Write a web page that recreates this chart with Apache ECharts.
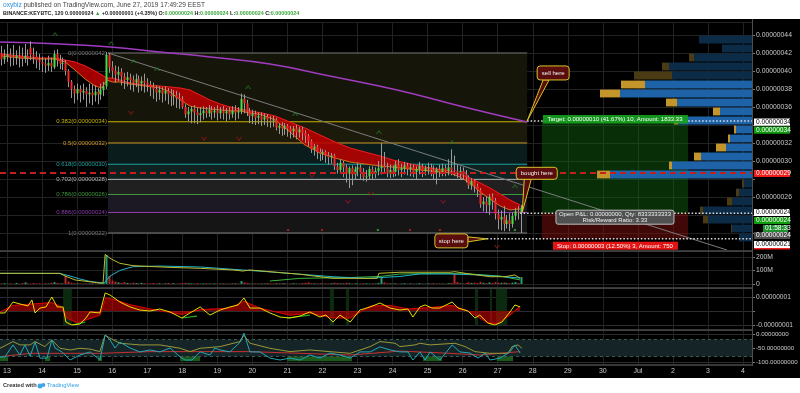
<!DOCTYPE html>
<html><head><meta charset="utf-8">
<script src="https://cdn.jsdelivr.net/npm/echarts@6/dist/echarts.min.js"></script>
<style>html,body{margin:0;padding:0;background:#fff;}#c{width:800px;height:393px;}</style>
</head><body><div id="c"></div>
<script>
// ---------- DATA (prices in satoshi = 1e-8 BTC, time in days of June) ----------
const candleStart = 12.833, candleStep = 1/12;
const open  = [42.0,41.3,41.6,41.8,41.6,41.5,41.7,41.6,41.4,41.7,42.6,41.8,41.6,41.2,41.0,
 40.8,40.6,40.9,40.4,41.9,41.2,40.8,40.9,40.0,38.8,38.0,37.5,
 38.0,37.6,37.8,37.4,37.6,37.3,37.7,37.4,37.9,38.3,41.8,40.4,
 40.0,39.6,39.9,39.4,39.0,39.3,39.0,38.7,39.1,38.6,38.9,38.7,
 38.5,38.2,38.0,37.6,37.9,37.5,37.8,37.4,37.2,37.3,37.0,36.9,
 36.0,35.2,35.5,35.8,35.4,35.1,35.3,35.6,35.3,35.7,35.4,35.6,
 35.3,35.6,35.3,35.5,35.2,35.6,35.4,35.5,36.9,36.4,35.5,35.0,
 35.2,34.8,35.0,34.6,34.9,34.6,34.5,34.6,33.7,33.9,33.6,33.9,
 33.6,33.3,33.6,33.2,33.5,33.1,32.8,32.2,31.3,31.6,31.0,30.8,
 31.0,30.6,30.4,30.6,29.4,29.0,29.8,29.3,28.6,29.2,28.5,29.1,
 29.3,28.8,28.2,28.3,29.1,28.6,28.9,29.2,29.4,29.2,28.6,29.0,
 28.8,29.6,29.0,29.2,29.5,29.1,29.3,28.8,29.1,29.4,28.9,29.2,
 29.3,29.0,28.7,29.1,28.8,29.2,28.9,29.3,29.0,28.9,28.7,28.9,
 28.5,28.2,27.3,27.8,27.2,26.8,25.2,25.5,25.1,26.0,25.6,24.1,
 23.5,23.8,23.0,23.4,23.0,23.9,24.4,24.3];
const close = [41.3,41.6,41.8,41.6,41.5,41.7,41.6,41.4,41.7,41.5,41.8,41.6,41.2,41.0,40.8,
 40.6,40.9,40.5,41.9,41.2,40.8,40.9,40.0,38.8,38.0,37.5,38.0,
 37.6,37.8,37.4,37.6,37.3,37.7,37.4,37.9,38.3,41.8,40.4,40.0,
 39.6,39.9,39.4,39.0,39.3,39.0,38.7,39.1,38.6,38.9,38.7,38.5,
 38.2,38.0,37.6,37.9,37.5,37.8,37.4,37.2,37.3,37.0,36.9,36.0,
 35.2,35.5,35.8,35.4,35.1,35.3,35.6,35.3,35.7,35.4,35.6,35.3,
 35.6,35.3,35.5,35.2,35.6,35.4,35.5,36.9,36.4,35.5,35.0,35.2,
 34.8,35.0,34.6,34.9,34.6,34.5,34.6,33.7,33.9,33.6,33.9,33.6,
 33.3,33.6,33.2,33.5,33.1,32.8,32.2,31.3,31.6,31.0,30.8,31.0,
 30.6,30.4,30.6,29.4,29.0,29.8,29.3,28.6,29.2,28.5,29.1,29.3,
 28.8,28.2,28.3,29.1,28.6,28.9,29.2,29.4,29.2,28.6,29.0,28.8,
 29.6,29.0,29.2,29.5,29.1,29.3,28.8,29.1,29.4,28.9,29.2,29.3,
 29.0,28.7,29.1,28.8,29.2,28.9,29.3,29.0,28.9,28.7,28.9,28.5,
 28.2,27.3,27.8,27.2,26.8,25.2,25.5,25.1,26.0,25.6,24.1,23.5,
 23.8,23.0,23.4,23.0,23.9,24.4,24.3,24.8];
const low   = [40.6,40.8,41.0,40.5,40.6,40.7,40.4,40.5,40.9,40.6,41.2,40.8,40.3,40.1,39.9,
 39.8,40.0,39.9,40.2,40.5,40.2,40.1,39.5,38.2,37.0,36.4,36.8,
 36.5,36.8,36.0,36.4,36.2,36.6,36.3,36.8,37.2,38.0,39.8,39.2,
 38.7,38.9,38.4,38.0,38.3,37.9,37.7,38.2,37.6,37.8,37.6,37.7,
 37.2,36.9,36.6,36.8,36.5,36.7,36.3,36.1,36.2,35.9,35.8,35.8,
 34.8,34.4,34.2,34.2,34.1,34.3,34.6,34.8,34.9,34.6,34.8,34.5,
 34.7,34.6,34.4,34.6,34.8,34.5,34.7,35.2,35.3,35.0,34.2,34.1,
 34.0,34.1,33.9,34.0,33.8,33.7,33.8,33.4,33.0,32.8,32.9,32.7,
 32.5,32.6,32.4,32.6,32.3,32.0,31.6,30.9,30.6,30.2,30.0,30.1,
 29.8,29.6,29.7,29.0,28.6,28.7,28.2,27.6,27.0,27.3,28.0,28.3,
 28.0,27.8,27.7,28.0,28.0,28.1,28.4,28.5,28.6,28.2,28.1,28.2,
 28.3,28.4,28.2,28.5,28.4,28.3,28.2,28.0,28.5,28.2,28.4,28.5,
 28.3,28.0,27.4,28.2,28.3,28.3,28.4,28.4,28.3,28.1,28.0,27.9,
 27.6,26.9,26.8,26.5,26.0,24.8,24.4,24.2,24.0,24.6,23.5,22.4,
 22.3,22.2,22.5,22.2,22.6,23.4,23.5,22.0];
const high  = [42.8,42.4,43.0,42.5,42.9,42.3,42.8,42.6,43.0,42.4,43.3,42.6,42.2,41.9,41.6,
 41.4,41.7,41.5,42.3,42.4,41.8,41.5,41.2,40.2,39.0,38.4,38.6,
 38.4,38.6,38.2,38.6,38.5,38.4,38.1,38.6,38.8,42.1,42.0,41.1,
 40.6,40.5,40.3,39.8,39.9,39.7,39.5,39.7,39.5,39.4,39.7,39.2,
 38.9,38.7,38.4,38.3,38.2,38.3,38.1,38.0,37.9,37.8,37.6,37.2,
 36.3,36.0,36.1,36.2,35.9,36.0,36.1,36.0,36.2,36.1,36.0,36.2,
 36.0,36.1,35.9,36.0,36.1,36.2,36.0,37.5,37.4,36.8,35.9,35.7,
 35.6,35.4,35.4,35.3,35.2,35.0,35.0,34.8,34.2,34.3,34.2,34.1,
 33.9,33.9,34.0,33.8,33.8,33.4,33.0,32.4,31.9,31.8,31.4,31.3,
 31.2,31.0,30.9,30.8,29.8,30.2,30.0,29.6,29.4,29.5,29.4,29.8,
 29.6,29.2,29.0,29.4,29.4,29.3,30.0,32.0,31.0,29.8,29.6,29.5,
 30.0,30.2,29.7,29.9,29.8,29.7,29.6,29.4,29.9,29.7,29.5,29.8,
 29.7,29.5,29.3,29.6,29.7,29.6,30.2,31.3,30.6,29.6,29.4,29.3,
 29.0,28.4,28.1,28.0,27.5,27.0,26.0,26.1,26.3,26.4,25.9,24.6,
 24.5,25.0,24.0,24.2,24.3,24.8,25.0,25.1];
const volume = [4,6,3,
 5,3,8,4,6,12,5,3,7,4,5,3,
 6,4,9,14,8,5,4,62,18,9,6,5,
 4,3,5,4,6,3,5,4,7,215,60,25,
 18,12,9,14,8,6,10,7,5,9,6,4,
 5,7,4,6,3,5,8,4,6,3,5,7,
 9,6,5,4,7,3,5,6,4,3,5,4,
 4,6,3,5,4,7,3,22,12,6,5,4,
 5,3,6,4,7,5,3,8,4,6,5,3,
 4,6,5,3,7,9,12,6,5,4,6,3,
 5,4,6,10,8,5,7,9,6,4,5,3,
 4,6,5,3,5,4,8,44,12,6,5,4,
 5,3,4,6,3,5,4,3,6,4,3,5,
 4,6,3,5,4,3,6,8,81,14,5,4,
 6,12,8,10,7,16,9,7,12,8,14,10,
 9,12,7,6,10,14,8,52];

const emaDays  = [12.83,13.37,13.94,14.37,14.66,14.94,15.23,15.51,15.71,15.85,16.00,16.22,16.51,16.94,17.37,17.65,17.94,18.22,18.51,18.79,19.08,19.36,19.65,19.93,20.28,20.65,21.07,21.50,21.93,22.36,22.79,23.21,23.64,24.01,24.50,25.07,25.64,25.92,26.21,26.50,26.78,27.07,27.35,27.64];
const emaUpper = [41.89,41.67,41.44,41.44,41.22,41.00,40.56,40.00,39.56,39.22,39.22,39.00,38.67,38.44,38.33,38.22,38.11,37.89,37.33,36.78,36.33,36.00,35.78,35.56,35.33,35.00,34.33,33.67,32.89,32.11,31.44,31.00,30.56,30.11,29.67,29.22,28.89,28.56,28.11,27.56,27.00,26.33,25.67,25.11];
const emaLower = [41.67,41.44,41.33,41.33,41.00,40.11,39.11,38.33,38.11,39.00,38.78,38.78,38.56,38.33,38.11,37.67,36.78,36.11,35.89,35.78,35.67,35.56,35.56,35.33,35.11,34.56,33.22,31.78,30.89,30.33,29.89,29.67,29.44,29.33,29.11,28.89,28.67,28.22,27.56,26.56,25.78,25.00,24.56,24.67];
const smaDays   = [12.80,14.51,15.94,17.36,18.79,20.50,22.21,24.13,25.92,27.84];
const smaValues = [43.22,43.00,42.67,42.11,41.56,40.78,39.44,37.89,36.11,34.33];
const trendLine = [[15.88,42.0],[33.54,20.11]];

const fibRatios = [0,0.382,0.5,0.618,0.702,0.786,0.886,1];
const fibPrices = [42,34.36,32,29.64,27.96,26.28,24.28,22];
const fibStartDay = 15.88, fibEndDay = 27.84;

const posStartDay = 28.26, posEndDay = 32.43;
const entryPrice = 24.2, targetPrice = 34.45, stopPrice = 21.35;
const hLinePrice = 28.67;

const profPrice = [21,22,23,24,25,26,27,28,29,30,31,32,33,34,35,36,37,38,39,40,41,42,43];
const profDown  = [0,1,5,3,5,3,2,13,3,7,10,2,2,4,7,11,20,24,38,7,5,0,0];
const profUp    = [13,20,44,49,20,13,8,142,80,51,26,22,16,74,32,75,132,107,80,83,58,30,53];
const valueAreaLow = 28, valueAreaHigh = 38;

const upMarks   = [[14.37,44.11],[15.97,43.11],[16.62,41.11],[17.28,40.22],[19.88,38.22],[21.22,35.22],[23.61,33.22],[25.70,32.11],[27.49,27.22]];
const downMarks = [[16.54,35.33],[18.62,32.44],[19.62,32.44],[21.70,28.33],[22.73,25.44],[23.38,26.33],[25.44,25.44],[26.98,20.44]];
const redDots   = [[21.02,22.33],[21.99,22.33],[24.50,22.33],[25.35,22.33]];
const greenDots = [[23.58,22.33],[27.49,22.33]];

const volCyan   = [[12.80,79],[14.51,78],[14.80,59],[15.08,37],[15.37,19],[15.65,10],[15.77,7],[15.94,59],[16.22,100],[16.59,128],[17.36,133],[18.51,126],[20.42,91],[22.30,54],[23.27,42],[24.21,56],[24.78,74],[25.64,74],[26.49,67],[27.07,56],[27.64,44]];
const volYellow = [[12.80,79],[14.51,79],[14.66,59],[14.94,30],[15.65,7],[15.74,7],[15.80,220],[15.94,190],[16.22,153],[16.59,136],[17.56,124],[18.51,116],[19.45,104],[19.73,96],[19.93,104],[21.36,72],[22.30,42],[23.56,42],[23.61,79],[24.21,87],[25.64,87],[25.78,91],[26.21,74],[26.78,54],[27.21,54],[27.49,67],[27.64,42]];
const volGreen  = [[20.50,22],[21.36,42],[22.79,48],[23.64,56],[24.21,74],[25.35,79],[26.21,74],[27.07,59],[27.64,30]];

const macdYellow = [[12.80,-0.14],[12.94,-0.14],[13.17,0.64],[13.37,0.5],[13.60,0.36],[13.71,0.79],[13.80,-0.14],[13.94,0.21],[14.11,0.29],[14.28,1.0],[14.43,0.29],[14.60,0.29],[14.68,-0.79],[14.85,-1.0],[15.08,-0.93],[15.25,-0.5],[15.37,-0.07],[15.65,-0.14],[15.80,1.29],[15.94,1.14],[16.22,0.64],[16.51,0.29],[16.79,0.07],[17.08,0],[17.36,0.14],[17.65,-0.07],[17.99,-0.5],[18.22,-0.14],[18.51,0.29],[18.79,-0.29],[19.08,0.07],[19.36,0.29],[19.59,0.43],[19.76,0.93],[19.93,0.21],[20.22,0.21],[20.50,-0.14],[20.79,-0.43],[21.07,-0.5],[21.36,-0.36],[21.64,-0.07],[21.93,-0.43],[22.10,-0.29],[22.30,-0.79],[22.50,-0.29],[22.79,-0.79],[23.07,0.07],[23.36,0.29],[23.64,0.57],[23.93,0.21],[24.21,0.07],[24.44,0.14],[24.58,-0.43],[24.78,0.29],[24.93,0.43],[25.13,0.21],[25.35,0.21],[25.70,0.64],[25.87,0.21],[26.15,0],[26.35,-0.5],[26.49,-0.29],[26.72,-0.86],[26.92,-1.0],[27.12,-0.79],[27.35,-0.07],[27.49,0.43],[27.64,0.29]];
const macdRed = [[12.80,-0.07],[13.17,0.4],[13.71,0.5],[14.28,0.6],[14.55,0.3],[14.70,-0.5],[15.00,-0.85],[15.30,-0.6],[15.65,-0.3],[15.82,0.95],[16.08,0.8],[16.51,0.45],[17.08,0.15],[17.99,-0.25],[18.51,0.1],[19.36,0.2],[19.76,0.7],[20.22,0.2],[21.07,-0.3],[21.64,-0.15],[22.30,-0.5],[22.79,-0.5],[23.36,0.35],[23.93,0.4],[24.44,0.15],[25.07,0.25],[25.70,0.4],[26.15,0],[26.49,-0.5],[26.72,-0.85],[27.00,-0.9],[27.35,-0.3],[27.64,0.35]];
const macdGreenSegs = [[[14.85,-1.0],[15.23,-0.79]],[[17.99,-0.5],[18.42,-0.36]],[[20.99,-0.5],[21.64,-0.29]]];
const macdShade = [[14.60,14.85],[22.21,22.33],[22.67,22.76],[26.35,26.44],[26.78,26.84],[26.95,27.27]];

const wrCyan = [[12.80,-82],[12.94,-82],[13.17,-39],[13.37,-75],[13.51,-39],[13.66,-79],[13.80,-29],[13.94,-86],[14.14,-86],[14.28,-21],[14.37,-50],[14.57,-64],[14.80,-93],[15.08,-75],[15.37,-64],[15.65,-93],[15.80,-4],[15.94,-21],[16.08,-50],[16.22,-29],[16.51,-50],[16.79,-64],[17.08,-57],[17.36,-64],[17.65,-50],[17.94,-82],[18.08,-93],[18.28,-93],[18.51,-64],[18.79,-75],[18.93,-50],[19.08,-57],[19.36,-64],[19.65,-29],[19.76,3],[19.93,-64],[20.22,-64],[20.50,-86],[20.79,-93],[21.07,-86],[21.36,-93],[21.64,-75],[21.93,-86],[22.21,-68],[22.50,-75],[22.79,-86],[23.07,-64],[23.36,-64],[23.64,-46],[23.93,-57],[24.21,-64],[24.44,-64],[24.58,-93],[24.78,-64],[24.93,-93],[25.07,-64],[25.35,-93],[25.70,-39],[25.92,-64],[26.21,-68],[26.44,-86],[26.64,-68],[26.78,-93],[27.07,-86],[27.35,-64],[27.49,-39],[27.64,-68]];
const wrYellow = [[12.80,-51],[13.17,-27],[13.37,-39],[13.66,-39],[13.80,-27],[14.08,-45],[14.28,-21],[14.51,-51],[14.80,-57],[15.08,-51],[15.37,-54],[15.65,-63],[15.80,-4],[15.94,-15],[16.22,-33],[16.79,-39],[17.36,-39],[17.94,-51],[18.22,-63],[18.51,-51],[19.08,-45],[19.65,-27],[19.76,-4],[19.93,-33],[20.50,-51],[21.07,-63],[21.64,-57],[22.21,-63],[22.79,-69],[23.36,-45],[23.64,-27],[24.07,-33],[24.21,-45],[24.64,-39],[24.78,-33],[25.07,-39],[25.78,-33],[26.07,-45],[26.35,-63],[26.78,-69],[27.29,-69],[27.41,-45],[27.58,-39],[27.69,-51]];
const wrRed = [[12.80,-81],[13.66,-69],[15.65,-69],[17.08,-63],[19.93,-63],[21.36,-69],[22.79,-75],[24.21,-61],[25.64,-69],[26.49,-75],[27.64,-63]];
const wrGreenZones = [[12.80,13.03],[14.08,14.23],[15.60,15.71],[17.94,18.51],[20.99,22.84],[24.87,25.41],[26.98,27.44]];

const hiddenPriceLabels = [20,22,24,28,34];

// ---------- CHART ----------
const FONT = '"Liberation Sans", Arial, sans-serif';
const AX = '#c8c8c8';
const GRIDC = '#222222';
const chart = echarts.init(document.getElementById('c'), null, {renderer:'canvas'});
const candleData = open.map((o,i)=>[candleStart+i*candleStep, o, close[i], low[i], high[i]]);
const volData = volume.map((v,i)=>[candleStart+i*candleStep, v, close[i]>=open[i]?1:0]);
const fmt8 = v => (v*1e-8).toFixed(8);
const FIB_COL = ['#7a7a7a','#c8b400','#d09a28','#1fa39c','#b8b8b8','#3f9a3f','#8f3cae','#7a7a7a'];
const FIB_BG  = ['#15150a','#1c1a0a','#0b1c1c','#0e2222','#202020','#1c1924','#151515'];

function hidX(g){return {gridIndex:g,type:'value',min:12.8,max:34.255,show:false};}
function txt(x,y,text,fill,font,align,valign,z){
  return {type:'text',x:x,y:y,z:z||60,silent:true,style:{text:text,fill:fill,font:font,
    textAlign:align||'left',textVerticalAlign:valign||'middle',align:align||'left',verticalAlign:valign||'middle'}};
}

const option = {
  animation:false,
  backgroundColor:'#ffffff',
  grid:[
    {left:7, top:22, width:745, height:343, outerBoundsMode:'none'},
    {left:0, top:22, width:752, height:229, outerBoundsMode:'none'},
    {left:0, top:251, width:752, height:33, outerBoundsMode:'none'},
    {left:0, top:288, width:752, height:37, outerBoundsMode:'none'},
    {left:0, top:330, width:752, height:32, outerBoundsMode:'none'}
  ],
  xAxis:[
    {gridIndex:0,type:'value',min:13,max:34.255,interval:1,position:'bottom',
      axisLine:{show:false},axisTick:{show:false},
      splitLine:{show:true,lineStyle:{color:GRIDC,width:1}},
      axisLabel:{color:AX,fontSize:7,fontFamily:FONT,margin:3,showMaxLabel:false,
        formatter:v=>{const r=Math.round(v); if(Math.abs(v-r)>0.01) return ''; return r===31?'Jul':String(r>31?r-30:r);}}},
    hidX(1),
    {gridIndex:1,type:'value',min:0,max:752,inverse:true,show:false},
    hidX(2), hidX(3), hidX(4)
  ],
  yAxis:[
    {gridIndex:0,type:'value',min:0,max:1,show:false},
    {gridIndex:1,type:'value',position:'right',min:20,max:45.444,interval:2,
      axisLine:{show:false},axisTick:{show:true,length:3,lineStyle:{color:'#777'}},
      splitLine:{show:true,lineStyle:{color:GRIDC}},
      axisLabel:{color:AX,fontSize:6.8,fontFamily:FONT,margin:4,showMaxLabel:false,showMinLabel:false,
        formatter:v=>{const r=Math.round(v); if(Math.abs(v-r)>0.01||hiddenPriceLabels.includes(r)) return ''; return fmt8(r);}}},
    {gridIndex:2,type:'value',position:'right',min:0,max:244.4,interval:100,
      axisLine:{show:false},axisTick:{show:true,length:3,lineStyle:{color:'#777'}},
      splitLine:{show:true,lineStyle:{color:GRIDC}},
      axisLabel:{color:AX,fontSize:6.8,fontFamily:FONT,margin:4,showMaxLabel:false,
        formatter:v=>v===0?'0':(v===100?'100M':(v===200?'200M':''))}},
    {gridIndex:3,type:'value',position:'right',min:-1,max:1.643,interval:1,
      axisLine:{show:false},axisTick:{show:true,length:3,lineStyle:{color:'#777'}},
      splitLine:{show:true,lineStyle:{color:'#2c2c2c'}},
      axisLabel:{color:AX,fontSize:6.6,fontFamily:FONT,margin:4,showMaxLabel:false,
        formatter:v=>v===1?'0.00000001':(v===-1?'-0.00000001':'')}},
    {gridIndex:4,type:'value',position:'right',min:-100,max:14.29,interval:50,
      axisLine:{show:false},axisTick:{show:true,length:3,lineStyle:{color:'#777'}},
      splitLine:{show:true,lineStyle:{color:'#2c2c2c'}},
      axisLabel:{color:AX,fontSize:6.2,fontFamily:FONT,margin:4,showMaxLabel:false,
        formatter:v=>v===0?'0.00000000':(v===-50?'-50.00000000':(v===-100?'-100.00000000':''))}}
  ],
  series:[
    {type:'custom',xAxisIndex:1,yAxisIndex:1,z:1,silent:true,clip:true,
      data:fibRatios.map((r,i)=>[i]),
      renderItem:(params,api)=>{
        const i=params.dataIndex, p=fibPrices[i];
        const a=api.coord([fibStartDay,p]), b=api.coord([fibEndDay,p]);
        const ch=[];
        if(i<fibPrices.length-1){
          const c=api.coord([fibStartDay,fibPrices[i+1]]);
          ch.push({type:'rect',shape:{x:a[0],y:a[1],width:b[0]-a[0],height:c[1]-a[1]},style:{fill:FIB_BG[i]}});
        }
        ch.push({type:'line',shape:{x1:a[0],y1:a[1],x2:b[0],y2:b[1]},style:{stroke:FIB_COL[i],lineWidth:1}});
        ch.push({type:'text',x:a[0]-1,y:a[1],style:{text:String(fibRatios[i])+'('+fmt8(p)+')',fill:FIB_COL[i],
          font:'6px '+FONT,textAlign:'right',textVerticalAlign:'middle',align:'right',verticalAlign:'middle'}});
        return {type:'group',children:ch};
      }},
    {type:'custom',xAxisIndex:1,yAxisIndex:1,z:2,silent:true,clip:true,
      data:[[posStartDay,posEndDay,entryPrice,targetPrice,stopPrice]],
      renderItem:(params,api)=>{
        const s=api.coord([api.value(0),api.value(2)]), e=api.coord([api.value(1),api.value(3)]), st=api.coord([api.value(1),api.value(4)]);
        return {type:'group',children:[
          {type:'rect',shape:{x:s[0],y:e[1],width:e[0]-s[0],height:s[1]-e[1]},style:{fill:'rgba(20,110,20,0.42)'}},
          {type:'rect',shape:{x:s[0],y:s[1],width:e[0]-s[0],height:st[1]-s[1]},style:{fill:'rgba(130,15,15,0.5)'}}
        ]};
      }},
    {type:'custom',xAxisIndex:2,yAxisIndex:1,z:3,silent:true,clip:true,
      data:profPrice.map((p,i)=>[p]),
      renderItem:(params,api)=>{
        const i=params.dataIndex, p=profPrice[i];
        const yTop=api.coord([0,p+1])[1]+0.6, yBot=api.coord([0,p])[1]-0.6;
        const xR=api.coord([0,p])[0], xB=api.coord([profUp[i],p])[0], xY=api.coord([profUp[i]+profDown[i],p])[0];
        const va = p>=valueAreaLow && p<=valueAreaHigh;
        return {type:'group',children:[
          {type:'rect',shape:{x:xB,y:yTop,width:xR-xB,height:yBot-yTop},style:{fill:va?'#1e63a8':'#0c2b47'}},
          {type:'rect',shape:{x:xY,y:yTop,width:xB-xY,height:yBot-yTop},style:{fill:va?'#c4952a':'#4a3b14'}}
        ]};
      }},
    {type:'custom',xAxisIndex:1,yAxisIndex:1,z:4,silent:true,clip:true,
      data:emaDays.map((d,i)=>[d,emaUpper[i],emaLower[i]]),
      renderItem:(params,api)=>{
        const i=params.dataIndex;
        if(i>=emaDays.length-1) return {type:'group',children:[]};
        const pts=[api.coord([emaDays[i],emaUpper[i]]),api.coord([emaDays[i+1],emaUpper[i+1]]),
                   api.coord([emaDays[i+1],emaLower[i+1]]),api.coord([emaDays[i],emaLower[i]])];
        return {type:'polygon',shape:{points:pts},style:{fill:'rgba(190,0,0,0.85)',stroke:'rgba(190,0,0,0.85)',lineWidth:0.5}};
      }},
    {type:'line',xAxisIndex:1,yAxisIndex:1,z:5,silent:true,showSymbol:false,data:emaDays.map((d,i)=>[d,emaUpper[i]]),lineStyle:{color:'#e82020',width:1}},
    {type:'line',xAxisIndex:1,yAxisIndex:1,z:5,silent:true,showSymbol:false,data:emaDays.map((d,i)=>[d,emaLower[i]]),lineStyle:{color:'#c8741c',width:1}},
    {type:'line',xAxisIndex:1,yAxisIndex:1,z:5,silent:true,showSymbol:false,smooth:true,data:smaDays.map((d,i)=>[d,smaValues[i]]),lineStyle:{color:'#a03cc0',width:1.5}},
    {type:'line',xAxisIndex:1,yAxisIndex:1,z:5,silent:true,showSymbol:false,data:trendLine,lineStyle:{color:'#7c7c7c',width:1}},
    {type:'custom',xAxisIndex:1,yAxisIndex:1,z:6,silent:true,clip:true,data:candleData,
      renderItem:(params,api)=>{
        const t=api.value(0),o=api.value(1),c=api.value(2),l=api.value(3),h=api.value(4);
        const po=api.coord([t,o]),pc=api.coord([t,c]),pl=api.coord([t,l]),ph=api.coord([t,h]);
        const x=Math.round(po[0])+0.5;
        const top=Math.min(po[1],pc[1]), bot=Math.max(po[1],pc[1]);
        return {type:'group',children:[
          {type:'line',shape:{x1:x,y1:ph[1],x2:x,y2:pl[1]},style:{stroke:'#9a9a9a',lineWidth:1}},
          {type:'rect',shape:{x:x-1,y:top,width:2,height:Math.max(1,bot-top)},style:{fill:c>=o?'#46dd46':'#f42a2a'}}
        ]};
      }},
    {type:'scatter',xAxisIndex:1,yAxisIndex:1,z:7,silent:true,data:upMarks,symbol:'path://M0,8L5,0L10,8L8,8L5,3L2,8Z',symbolSize:[6,4],itemStyle:{color:'#1f7a24'}},
    {type:'scatter',xAxisIndex:1,yAxisIndex:1,z:7,silent:true,data:downMarks,symbol:'path://M0,0L5,8L10,0L8,0L5,5L2,0Z',symbolSize:[6,4],itemStyle:{color:'#a0181c'}},
    {type:'scatter',xAxisIndex:1,yAxisIndex:1,z:7,silent:true,data:redDots,symbol:'rect',symbolSize:2,itemStyle:{color:'#d02020'}},
    {type:'scatter',xAxisIndex:1,yAxisIndex:1,z:7,silent:true,data:greenDots,symbol:'rect',symbolSize:2,itemStyle:{color:'#30c030'}},
    {type:'line',xAxisIndex:1,yAxisIndex:1,z:8,silent:true,showSymbol:false,data:[[12.8,hLinePrice],[34.255,hLinePrice]],lineStyle:{color:'#c41e1e',width:2,type:[6,4]}},
    {type:'line',xAxisIndex:1,yAxisIndex:1,z:8,silent:true,showSymbol:false,data:[[fibEndDay,targetPrice],[34.255,targetPrice]],lineStyle:{color:'#e0e0e0',width:1.5,type:[1.5,2]}},
    {type:'line',xAxisIndex:1,yAxisIndex:1,z:8,silent:true,showSymbol:false,data:[[27.64,entryPrice],[34.255,entryPrice]],lineStyle:{color:'#e0e0e0',width:1.5,type:[1.5,2]}},
    {type:'line',xAxisIndex:1,yAxisIndex:1,z:8,silent:true,showSymbol:false,data:[[26.69,stopPrice],[34.255,stopPrice]],lineStyle:{color:'#e0e0e0',width:1.5,type:[1.5,2]}},
    {type:'custom',xAxisIndex:3,yAxisIndex:2,z:3,silent:true,clip:true,data:volData,
      renderItem:(params,api)=>{
        const t=api.value(0),v=api.value(1);
        const a=api.coord([t,0]),b=api.coord([t,v]);
        return {type:'rect',shape:{x:Math.round(a[0])-0.5,y:b[1],width:2,height:Math.max(0.8,a[1]-b[1])},style:{fill:api.value(2)?'#2a9a70':'#b02a2a'}};
      }},
    {type:'line',xAxisIndex:3,yAxisIndex:2,z:5,silent:true,showSymbol:false,data:volGreen,lineStyle:{color:'#3cb043',width:1}},
    {type:'line',xAxisIndex:3,yAxisIndex:2,z:5,silent:true,showSymbol:false,data:volCyan,lineStyle:{color:'#22b2c8',width:1}},
    {type:'line',xAxisIndex:3,yAxisIndex:2,z:5,silent:true,showSymbol:false,data:volYellow,lineStyle:{color:'#bcbc30',width:1}},
    {type:'line',xAxisIndex:4,yAxisIndex:3,z:4,silent:true,showSymbol:false,data:macdRed,
      lineStyle:{color:'#e00000',width:1},areaStyle:{color:'rgba(215,0,0,0.8)',origin:0},
      markArea:{silent:true,itemStyle:{color:'#0b2a10'},data:macdShade.map(r=>[{xAxis:r[0]},{xAxis:r[1]}])}},
    ...macdGreenSegs.map(seg=>({type:'line',xAxisIndex:4,yAxisIndex:3,z:5,silent:true,showSymbol:false,data:seg,lineStyle:{color:'#22b022',width:1.2}})),
    {type:'line',xAxisIndex:4,yAxisIndex:3,z:6,silent:true,showSymbol:false,data:macdYellow,lineStyle:{color:'#e8e000',width:1}},
    {type:'line',xAxisIndex:5,yAxisIndex:4,z:4,silent:true,showSymbol:false,data:wrRed,lineStyle:{color:'#c83030',width:1},
      markArea:{silent:true,itemStyle:{color:'#152427'},data:[[{yAxis:-20},{yAxis:-80}]]},
      markLine:{silent:true,symbol:'none',label:{show:false},lineStyle:{color:'#3e5858',type:[3,3],width:1},data:[{yAxis:-20},{yAxis:-80}]}},
    {type:'line',xAxisIndex:5,yAxisIndex:4,z:5,silent:true,showSymbol:false,data:wrYellow,lineStyle:{color:'#9a9838',width:1},
      markArea:{silent:true,itemStyle:{color:'#1c5a1c'},data:wrGreenZones.map(r=>[{xAxis:r[0],yAxis:-80},{xAxis:r[1],yAxis:-97}])}},
    {type:'line',xAxisIndex:5,yAxisIndex:4,z:6,silent:true,showSymbol:false,data:wrCyan,lineStyle:{color:'#22a8b8',width:1}}
  ]
};
chart.setOption(option);

// ---------- annotations positioned from data coordinates ----------
const P=(d,p)=>chart.convertToPixel({xAxisIndex:1,yAxisIndex:1},[d,p]);
const g=[];
g.push({type:'rect',z:-10,silent:true,shape:{x:0,y:19,width:800,height:359},style:{fill:'#000000'}});
[251,288,330,365].forEach(y=>g.push({type:'line',z:50,silent:true,shape:{x1:0,y1:y,x2:752,y2:y},style:{stroke:'#4a4a4a',lineWidth:1.5}}));
g.push({type:'line',z:50,silent:true,shape:{x1:752.5,y1:19,x2:752.5,y2:366},style:{stroke:'#4f4f4f',lineWidth:1}});
g.push({type:'text',x:3,y:5,z:60,silent:true,style:{text:'{a|oxybiz}{b| published on TradingView.com, June 27, 2019 17:49:29 EEST}',
  textVerticalAlign:'middle',verticalAlign:'middle',rich:{a:{fill:'#2a8ee0',font:'6.6px '+FONT},b:{fill:'#444',font:'6.6px '+FONT}}}});
g.push({type:'text',x:3,y:13.5,z:60,silent:true,style:{text:'{k|BINANCE:KEYBTC, 120 0.00000024 }{g|\u25B2}{k| +0.00000001 (+4.35%) O:}{g|0.00000024}{k| H:}{g|0.00000024}{k| L:}{g|0.00000024}{k| C:}{g|0.00000024}',
  textVerticalAlign:'middle',verticalAlign:'middle',rich:{k:{fill:'#222',font:'bold 5.4px '+FONT},g:{fill:'#3aa63a',font:'bold 5.4px '+FONT}}}});
g.push(txt(3,385.5,'Created with','#333','bold 5.6px '+FONT));
g.push({type:'circle',z:60,silent:true,shape:{cx:40,cy:386,r:2.5},style:{fill:'#41a6e8'}});
g.push({type:'circle',z:60,silent:true,shape:{cx:43.3,cy:385,r:2.1},style:{fill:'#41a6e8'}});
g.push(txt(47,385.5,'TradingView','#2c9be6','5.8px '+FONT));

function callout(text,bx,by,bw,bh,tail){
  g.push({type:'polygon',z:70,silent:true,shape:{points:tail},style:{fill:'#5a0d0d',stroke:'#d6c42a',lineWidth:1}});
  g.push({type:'rect',z:71,silent:true,shape:{x:bx,y:by,width:bw,height:bh,r:3},style:{fill:'#5a0d0d',stroke:'#d6c42a',lineWidth:1}});
  g.push(txt(bx+bw/2,by+bh/2,text,'#f2f2f2','6px '+FONT,'center','middle',72));
}
let a=P(fibEndDay,targetPrice);
callout('sell here',a[0]+10,a[1]-55,32,14,[[a[0]+16,a[1]-41],[a[0]+22,a[1]-41],[a[0],a[1]]]);
a=P(27.70,entryPrice+0.1);
callout('bought here',a[0]-6,a[1]-45,41,12,[[a[0]+2,a[1]-33],[a[0]+9,a[1]-33],[a[0],a[1]]]);
a=P(26.69,stopPrice);
callout('stop here',a[0]-52,a[1]-5,33,14,[[a[0]-19,a[1]-2],[a[0]-19,a[1]+3],[a[0],a[1]]]);

const mid=P((posStartDay+posEndDay)/2,entryPrice)[0];
let ty=P(posStartDay,targetPrice)[1], ey=P(posStartDay,entryPrice)[1], sy=P(posStartDay,stopPrice)[1];
g.push({type:'rect',z:65,silent:true,shape:{x:mid-72,y:ty-6,width:145,height:8.5},style:{fill:'rgba(22,160,30,0.92)'}});
g.push(txt(mid,ty-1.7,'Target: 0.00000010 (41.67%) 10, Amount: 1833.33','#ffffff','6px '+FONT,'center','middle',66));
g.push({type:'rect',z:65,silent:true,shape:{x:mid-59,y:ey-3,width:118,height:14,r:2},style:{fill:'#505050',stroke:'#bdbdbd',lineWidth:1}});
g.push(txt(mid,ey+1,'Open P&L: 0.00000000, Qty: 8333333333','#f0f0f0','6px '+FONT,'center','middle',66));
g.push(txt(mid,ey+7.2,'Risk/Reward Ratio: 3.33','#f0f0f0','6px '+FONT,'center','middle',66));
g.push({type:'rect',z:65,silent:true,shape:{x:mid-62,y:sy+3,width:125,height:8},style:{fill:'#e41414'}});
g.push(txt(mid,sy+7,'Stop: 0.00000003 (12.50%) 3, Amount: 750','#ffffff','6px '+FONT,'center','middle',66));

function pbox(price,label,fill,color,x0,w){
  const y=P(20,price)[1];
  g.push({type:'rect',z:80,silent:true,shape:{x:x0,y:y-3.6,width:w,height:7.2},style:{fill:fill}});
  g.push(txt(x0+2,y,label,color,'6.6px '+FONT,'left','middle',81));
  return y;
}
pbox(34.33,'0.00000034','#ffffff','#000',754,36);
pbox(33.44,'0.00000034','#109a10','#fff',754,36);
pbox(28.61,'0.00000029','#ee1c1c','#fff',754,36);
pbox(24.28,'0.00000024','#ffffff','#000',754,36);
pbox(23.39,'0.00000024','#109a10','#fff',754,36);
pbox(22.50,'01:58:33','#1e9030','#fff',763,25);
pbox(21.72,'0.00000024','#4a4a4a','#fff',754,36);
const y21=pbox(20.72,'0.00000021','#ffffff','#000',754,36);
g.push({type:'rect',z:82,silent:true,shape:{x:754,y:y21+3.6,width:36,height:1.5},style:{fill:'#ee1c1c'}});

chart.setOption({graphic:{elements:g}});
</script>
</body></html>
